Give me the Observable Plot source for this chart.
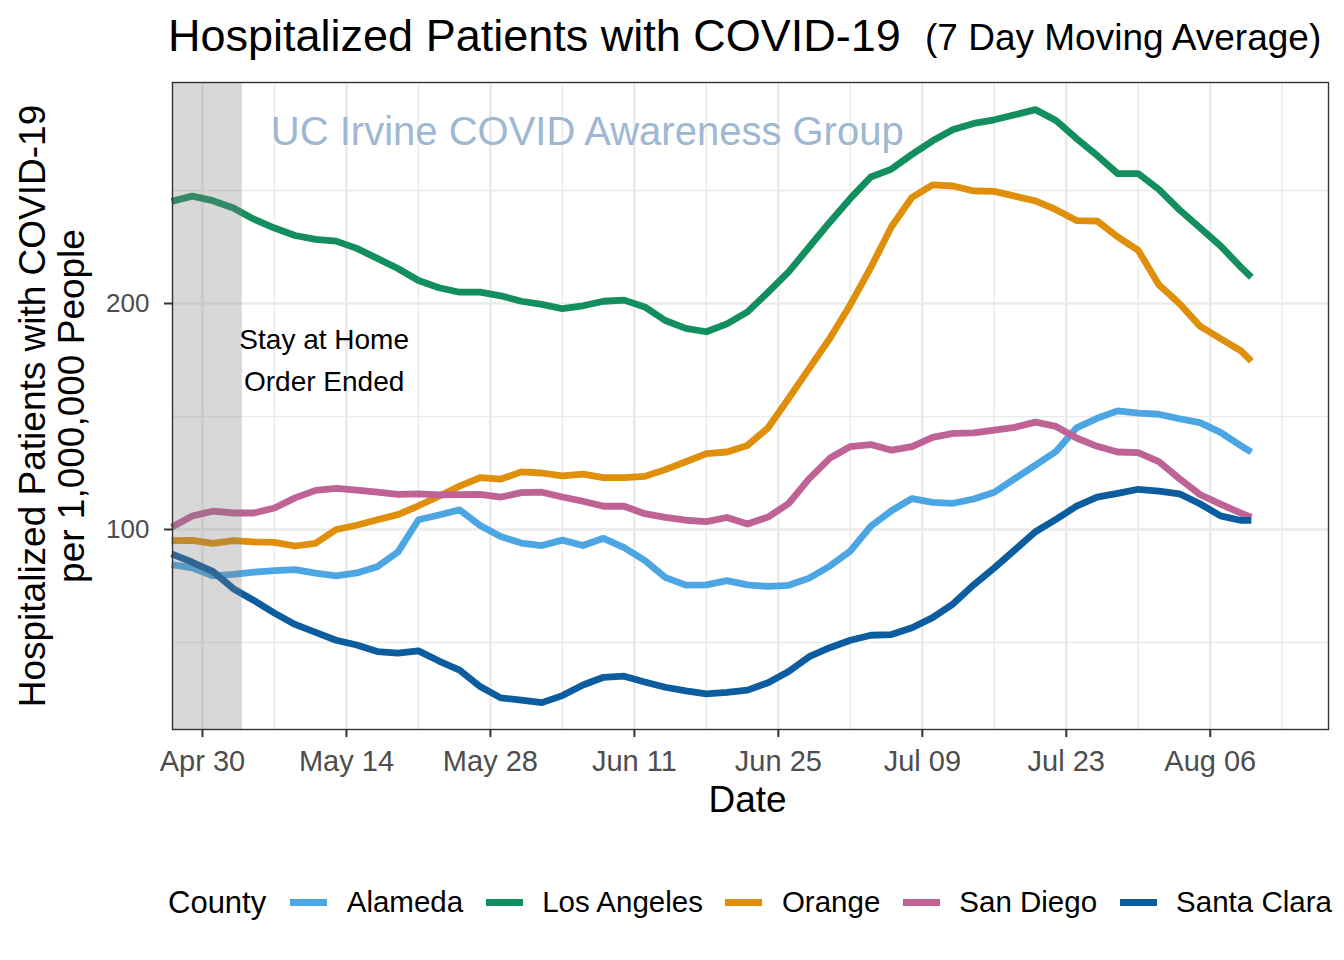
<!DOCTYPE html>
<html>
<head>
<meta charset="utf-8">
<script src="https://cdn.jsdelivr.net/npm/d3@7"></script>
<script src="https://cdn.jsdelivr.net/npm/@observablehq/plot@0.6"></script>
<style>
  html, body { margin: 0; padding: 0; background: #fff; overflow: hidden; }
  body { font-family: "Liberation Sans", Arial, Helvetica, sans-serif; }
  #wrap { position: relative; width: 1344px; height: 960px; overflow: hidden; background: #fff; }
  #wrap > * { position: absolute; }
  .t { white-space: nowrap; line-height: 1; color: #000; }
  #legend { display: flex; align-items: center; left: 168px; top: 886px; height: 32px;
            width: max-content; white-space: nowrap; }
  #legend > span { flex: 0 0 auto; white-space: nowrap; }
  #legend .title { font-size: 31px; margin-right: 24px; line-height: 1; }
  #legend .key { width: 37px; height: 7px; margin-right: 19.5px; }
  #legend .lab { font-size: 29.5px; margin-right: 22.5px; line-height: 1; }
</style>
</head>
<body>
<div id="wrap"></div>
<script>
// ---------------- data ----------------
const dates = [
  "2020-04-27","2020-04-29","2020-05-01","2020-05-03","2020-05-05","2020-05-07","2020-05-09","2020-05-11",
  "2020-05-13","2020-05-15","2020-05-17","2020-05-19","2020-05-21","2020-05-23","2020-05-25","2020-05-27",
  "2020-05-29","2020-05-31","2020-06-02","2020-06-04","2020-06-06","2020-06-08","2020-06-10","2020-06-12",
  "2020-06-14","2020-06-16","2020-06-18","2020-06-20","2020-06-22","2020-06-24","2020-06-26","2020-06-28",
  "2020-06-30","2020-07-02","2020-07-04","2020-07-06","2020-07-08","2020-07-10","2020-07-12","2020-07-14",
  "2020-07-16","2020-07-18","2020-07-20","2020-07-22","2020-07-24","2020-07-26","2020-07-28","2020-07-30",
  "2020-08-01","2020-08-03","2020-08-05","2020-08-07","2020-08-09","2020-08-10"
];

const counties = ["Alameda", "Los Angeles", "Orange", "San Diego", "Santa Clara"];
const countyColors = ["#4BA6E3", "#138E5F", "#E08F0B", "#BF6295", "#0C5DA0"];

const alameda = [
  84.5, 83, 79.5, 80.1, 81.1, 81.8, 82.2, 80.7, 79.5, 80.8, 83.5, 90, 104.3, 106.4, 108.7, 101.8,
  96.9, 94, 92.9, 95.3, 92.9, 96.1, 92, 86.3, 78.8, 75.4, 75.5, 77.4, 75.5, 74.8, 75.3, 78.5,
  83.8, 90.5, 101.5, 108.3, 113.7, 112, 111.6, 113.5, 116.5, 122.5, 128.5, 134.5, 145, 149.2, 152.5, 151.5,
  151, 149, 147.3, 143, 137, 134.2
];
const losAngeles = [
  245.2, 247.5, 245.5, 242.3, 237.3, 233.4, 230.1, 228.4, 227.6, 224.4, 220, 215.5, 210.2, 207, 205, 205,
  203.4, 201, 199.6, 197.7, 199, 201, 201.5, 198.5, 192.5, 189, 187.5, 191, 196.3, 205, 214, 225,
  236, 246.5, 256, 259.5, 266, 272, 277, 279.7, 281.3, 283.5, 285.8, 281, 273, 265.5, 257.5, 257.5,
  250.5, 241.5, 233.5, 225.5, 216, 211.6
];
const orange = [
  95.1, 95.2, 93.9, 95.1, 94.5, 94.3, 92.7, 93.9, 100, 101.9, 104.3, 106.6, 110.5, 114.7, 119.2, 123,
  122.3, 125.5, 125, 123.7, 124.5, 123, 123, 123.5, 126.5, 130, 133.6, 134.3, 137.2, 145, 158, 171.3,
  184.5, 199.5, 216, 234, 247, 252.5, 252, 249.8, 249.6, 247.5, 245.4, 241.5, 236.7, 236.5, 229.5, 223.5,
  208.3, 200, 190, 184.5, 179, 174.5
];
const sanDiego = [
  101, 106, 108.1, 107.3, 107.3, 109.5, 114, 117.3, 118.2, 117.4, 116.5, 115.5, 115.8, 115.3, 115.4, 115.5,
  114.3, 116.3, 116.5, 114.4, 112.5, 110.3, 110.3, 107, 105.4, 104.1, 103.5, 105.3, 102.4, 105.5, 111.5, 122.5,
  131.5, 136.7, 137.6, 135.1, 136.7, 140.8, 142.5, 142.8, 144, 145.2, 147.5, 145.6, 140.5, 136.8, 134.3, 134,
  130, 122.5, 115.5, 111.2, 107.2, 105.4
];
const santaClara = [
  89.2, 85.5, 81.5, 73.8, 68.6, 63, 58, 54.5, 51, 48.9, 46, 45.3, 46.3, 41.8, 37.8, 30.5,
  25.5, 24.5, 23.4, 26.5, 31.2, 34.6, 35.1, 32.5, 30.2, 28.6, 27.3, 27.9, 28.9, 32.2, 37.2, 43.7,
  47.7, 51, 53.2, 53.5, 56.5, 61, 67.1, 75.5, 83, 91, 99, 104.5, 110.3, 114.3, 116, 117.8,
  117, 115.8, 111.4, 106, 104, 104
];

const xTickDates = ["2020-04-30","2020-05-14","2020-05-28","2020-06-11","2020-06-25","2020-07-09","2020-07-23","2020-08-06"];
const xMinorDates = ["2020-05-07","2020-05-21","2020-06-04","2020-06-18","2020-07-02","2020-07-16","2020-07-30","2020-08-13"];
const yTicks = [100, 200];
const yMinor = [50, 150, 250];

const titleText = "Hospitalized Patients with COVID-19";
const subtitleText = "(7 Day Moving Average)";
const xTitle = "Date";
const yTitle = ["Hospitalized Patients with COVID-19", "per 1,000,000 People"];
const legendTitle = "County";
const watermark = [{date: "2020-06-06T10:00Z", value: 276, text: "UC Irvine COVID Awareness Group"}];
const annotation = [{date: "2020-05-11T20:00Z", value: 176.5, text: "Stay at Home\nOrder Ended"}];
const shade = [{start: "2020-04-20", end: "2020-05-03T21:00Z"}];

// ---------------- build table ----------------
const seriesValues = [alameda, losAngeles, orange, sanDiego, santaClara];
const parse = s => new Date(s.length === 10 ? s + "T00:00Z" : s);
const table = [];
counties.forEach((c, i) => {
  seriesValues[i].forEach((v, j) => table.push({county: c, date: parse(dates[j]), value: v}));
});
const xTicksD = xTickDates.map(parse);
const xMinorD = xMinorDates.map(parse);
const xDomain = [new Date("2020-04-27T02:00Z"), new Date("2020-08-17T12:00Z")];
const yDomain = [11.5, 297.8];
const shadeD = shade.map(d => ({start: xDomain[0], end: parse(d.end)}));
const wm = watermark.map(d => ({...d, date: parse(d.date)}));
const ann = annotation.map(d => ({...d, date: parse(d.date)}));

const font = "Liberation Sans, Arial, Helvetica, sans-serif";

const chart = Plot.plot({
  width: 1344,
  height: 960,
  marginLeft: 172,
  marginRight: 16,
  marginTop: 82,
  marginBottom: 231,
  style: {fontFamily: font, background: "transparent", overflow: "visible"},
  x: {type: "utc", domain: xDomain},
  y: {domain: yDomain},
  color: {domain: counties, range: countyColors},
  marks: [
    Plot.gridX(xMinorD, {stroke: "#EBEBEB", strokeOpacity: 1, strokeWidth: 1.4}),
    Plot.gridY(yMinor, {stroke: "#EBEBEB", strokeOpacity: 1, strokeWidth: 1.4}),
    Plot.gridX(xTicksD, {stroke: "#EBEBEB", strokeOpacity: 1, strokeWidth: 2.7}),
    Plot.gridY(yTicks, {stroke: "#EBEBEB", strokeOpacity: 1, strokeWidth: 2.7}),
    Plot.line(table, {x: "date", y: "value", z: "county", stroke: "county",
      strokeWidth: 6.8, strokeLinejoin: "round", strokeLinecap: "butt"}),
    Plot.rect(shadeD, {x1: "start", x2: "end", y1: () => yDomain[0], y2: () => yDomain[1], fill: "#7F7F7F", fillOpacity: 0.3}),
    Plot.text(wm, {x: "date", y: "value", text: "text", fontSize: 40, fill: "#9EB7D2", fontFamily: font}),
    Plot.text(ann, {x: "date", y: "value", text: "text", fontSize: 28, lineHeight: 1.5, fill: "#000", fontFamily: font}),
    Plot.frame({stroke: "#333333", strokeWidth: 1.4}),
    Plot.axisX(xTicksD, {tickSize: 8, tickPadding: 13, tickFormat: d3.utcFormat("%b %d"),
      fontSize: 29, stroke: "#333333", strokeWidth: 2, fill: "#4D4D4D", label: null}),
    Plot.axisY(yTicks, {tickSize: 8, tickPadding: 15, fontSize: 26,
      stroke: "#333333", strokeWidth: 2, fill: "#4D4D4D", label: null})
  ]
});

const wrap = document.getElementById("wrap");
chart.style.left = "0px";
chart.style.top = "0px";
wrap.appendChild(chart);

// ---------------- text overlays ----------------
function addText(txt, size, left, baseline, extra = {}) {
  const d = document.createElement("div");
  d.className = "t";
  d.textContent = txt;
  d.style.fontSize = size + "px";
  d.style.left = left + "px";
  d.style.top = (baseline - 0.8465 * size) + "px";
  Object.assign(d.style, extra);
  wrap.appendChild(d);
  return d;
}
addText(titleText, 45, 168, 51);
addText(subtitleText, 37, 925, 50);
addText(xTitle, 37, 547.5, 812, {width: "400px", textAlign: "center"});

// rotated y-axis title
const yt = document.createElement("div");
yt.className = "t";
const cx = 52, cy = 405.5, lh = 39;
Object.assign(yt.style, {
  fontSize: "37px", lineHeight: lh + "px", width: "800px", height: (2 * lh) + "px",
  left: (cx - 400) + "px", top: (cy - lh) + "px", textAlign: "center",
  transform: "rotate(-90deg)", transformOrigin: "50% 50%", whiteSpace: "pre"
});
yt.textContent = yTitle.join("\n");
wrap.appendChild(yt);

// legend
const lg = document.createElement("div");
lg.id = "legend";
const lt = document.createElement("span");
lt.className = "title";
lt.textContent = legendTitle;
lg.appendChild(lt);
counties.forEach((c, i) => {
  const k = document.createElement("span");
  k.className = "key";
  k.style.background = countyColors[i];
  lg.appendChild(k);
  const l = document.createElement("span");
  l.className = "lab";
  l.textContent = c;
  lg.appendChild(l);
});
wrap.appendChild(lg);
</script>
</body>
</html>
